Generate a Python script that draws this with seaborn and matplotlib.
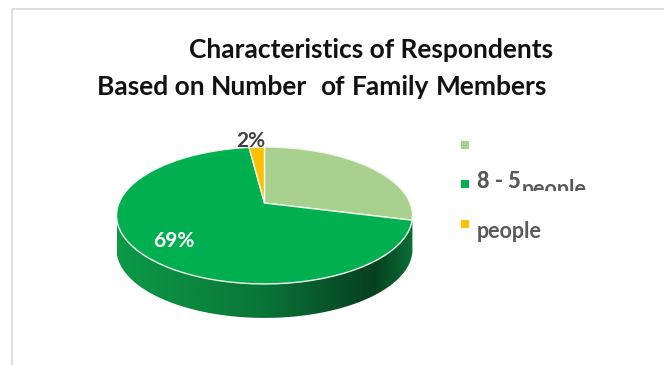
import numpy as np
import matplotlib
matplotlib.use("Agg")
import matplotlib.pyplot as plt
from matplotlib.colors import LinearSegmentedColormap
from matplotlib.patches import PathPatch, Rectangle
from matplotlib.path import Path
from matplotlib.transforms import Transform
import seaborn as sns

# Share of respondents per household size group
group_labels = ["", "3 - 5 people", "people"]
shares = [29, 69, 2]
shown_labels = [None, "69%", "2%"]
slice_colors = ["#A9D18E", "#00B050", "#FFC000"]

sns.set_theme(style="white")
plt.rcParams["font.family"] = ["Lato", "DejaVu Sans"]

W, H = 664, 365
APEX_X, APEX_Y = 264.5, 203.0
SCALE_X, SCALE_Y, TILT = 145.5, 66.2, 0.182
DEPTH = 34.0


class TiltedDisc(Transform):
    """Projects the unit disc of a pie onto a receding plane, in pixel units."""
    input_dims = output_dims = 2
    is_separable = False
    has_inverse = False

    def transform_non_affine(self, values):
        values = np.asarray(values, dtype=float)
        w = 1 + TILT * values[:, 1]
        return np.column_stack((APEX_X + SCALE_X * values[:, 0] / w,
                                APEX_Y - SCALE_Y * values[:, 1] / w))


fig = plt.figure(figsize=(W / 100, H / 100), dpi=100, facecolor="white")
ax = fig.add_axes([0, 0, 1, 1])

disc = TiltedDisc()
wedges, _ = ax.pie(shares, colors=sns.color_palette(slice_colors), startangle=90,
                   counterclock=False,
                   wedgeprops=dict(edgecolor="#F2F7EE", linewidth=1.0))
for wedge in wedges:
    wedge.set_transform(disc + ax.transData)
    wedge.set_zorder(3)
    wedge.set_clip_on(False)

ax.set_aspect("auto")
ax.set_xlim(0, W)
ax.set_ylim(H, 0)
ax.set_axis_off()

# Side wall of the disc: lower rim and the same rim pushed down by the depth
t = np.linspace(0, 2 * np.pi, 721)
rim = disc.transform_non_affine(np.column_stack((np.cos(t), np.sin(t))))
left, right = rim[:, 0].argmin(), rim[:, 0].argmax()
idx = np.arange(left, right + 1) if left < right else np.r_[left:len(rim), 0:right + 1]
lower = rim[idx]
outline = np.vstack((lower, lower[::-1] + [0, DEPTH], lower[:1]))
wall = PathPatch(Path(outline), transform=ax.transData, facecolor="none", edgecolor="none")
ax.add_patch(wall)
wall_cmap = LinearSegmentedColormap.from_list(
    "wall", [(0.0, "#0B9A48"), (0.22, "#0A8A40"), (0.5, "#0A7436"),
             (0.75, "#075028"), (0.87, "#06401F"), (1.0, "#0A6F35")])
shade = ax.imshow(np.linspace(0, 1, 256)[None, :], cmap=wall_cmap, aspect="auto",
                  extent=(lower[:, 0].min(), lower[:, 0].max(), 330, 200), zorder=1)
shade.set_clip_path(wall)
ax.set_xlim(0, W)
ax.set_ylim(H, 0)

# Panel border on the top and left
ax.plot([12, 12, W], [H, 8.5, 8.5], color="#D9D9D9", lw=1.2, zorder=0)

# Value labels
ax.text(174, 241, shown_labels[1], color="white", fontsize=15, fontweight="bold",
        ha="center", va="center", zorder=5)
ax.text(251, 141, shown_labels[2], color="#404040", fontsize=15, fontweight="bold",
        ha="center", va="center", zorder=5)

# Title
title_kw = dict(color="#111111", fontsize=19, fontweight="bold", va="center", ha="left")
ax.text(189, 50, "Characteristics of Respondents", **title_kw)
ax.text(97, 87, "Based on", **title_kw)
ax.text(211, 87, "Number", **title_kw)
ax.text(320, 87, "of", **title_kw)
ax.text(352, 87, "Family", **title_kw)
ax.text(436, 87, "Members", **title_kw)

# Legend keys
ax.scatter([465, 465, 465], [145, 184, 224], marker="s", s=30,
           color=sns.color_palette(slice_colors), linewidths=0, zorder=4)

# Legend text; the middle row is cut off at its lower edge
grey = "#595959"
row_clip = Rectangle((470, 165), 130, 26, transform=ax.transData)
for x, y, s in [(477, 182, "3 - 5"), (477, 182, "8 - 5"), (522, 190, group_labels[2])]:
    label = ax.text(x, y, s, color=grey, fontsize=15.5, fontweight="bold",
                    ha="left", va="center", zorder=5)
    label.set_clip_path(row_clip)
    label.set_clip_on(True)
ax.text(477, 231, group_labels[2], color=grey, fontsize=15.5, fontweight="bold",
        ha="left", va="center", zorder=5)

fig.savefig("out.png", dpi=100)
